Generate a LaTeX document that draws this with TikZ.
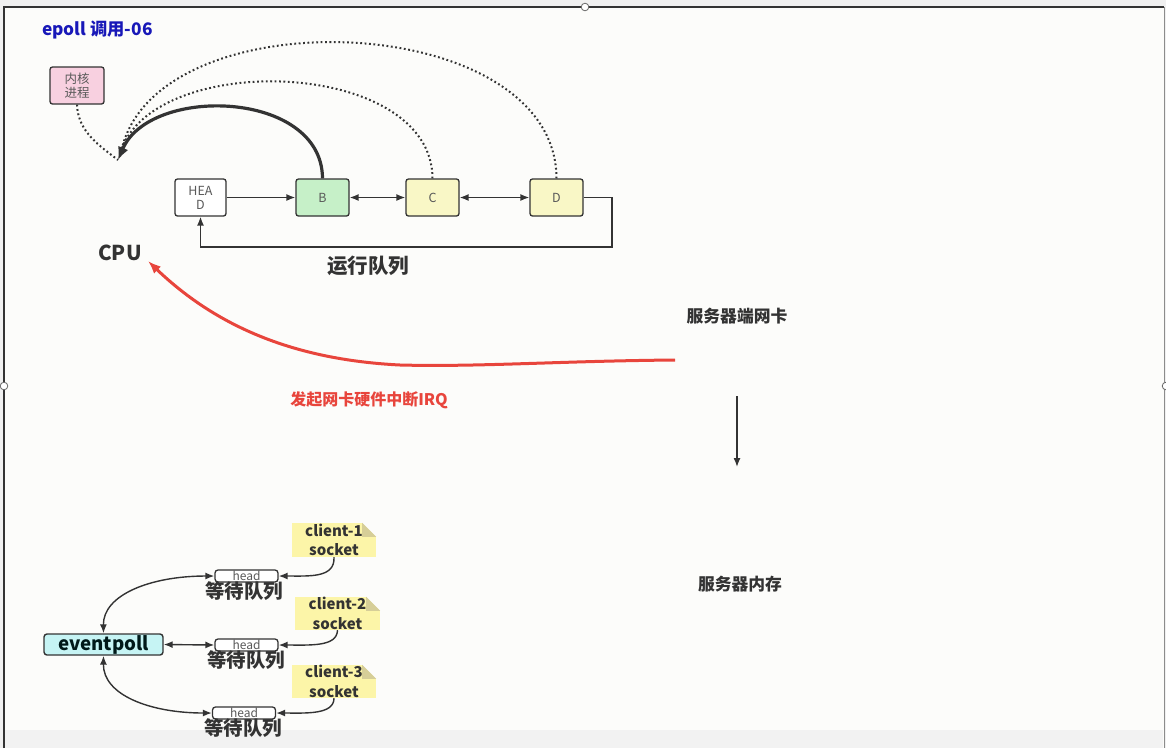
\documentclass[tikz,border=0pt]{standalone}
\usepackage{fontspec}
\setmainfont{Noto Sans CJK SC}
\usetikzlibrary{arrows.meta,calc}
\definecolor{inkc}{HTML}{333333}
\definecolor{pinkc}{HTML}{F8D0E0}
\definecolor{greenc}{HTML}{C6F0C8}
\definecolor{yelc}{HTML}{F9F7C6}
\definecolor{cyanc}{HTML}{C6F4F4}
\definecolor{notec}{HTML}{FCF5A8}
\definecolor{foldc}{HTML}{D6CE98}
\definecolor{redc}{HTML}{E8453C}
\definecolor{bluec}{HTML}{1818B8}
\definecolor{bgc}{HTML}{FCFCFA}
\begin{document}
\begin{tikzpicture}[x=1pt,y=-1pt,
  box/.style={draw=inkc, line width=1.3pt, rounded corners=2.5pt, inner sep=0pt, align=center,
    font=\fontsize{12.5}{14}\selectfont, text=black!65},
  headbox/.style={draw=inkc, line width=1.3pt, rounded corners=3pt, fill=white, inner sep=0pt,
    minimum width=63pt, minimum height=12pt, font=\fontsize{12}{12}\selectfont, text=black!65},
  note/.style={fill=notec, inner sep=0pt, align=center, font=\bfseries\fontsize{15}{19.5}\selectfont, text=inkc},
  wlbl/.style={font=\bfseries\fontsize{19.5}{20}\selectfont, text=inkc, inner sep=0pt},
  lbl/.style={font=\bfseries\fontsize{20.5}{22}\selectfont, text=inkc, inner sep=0pt},
  midlbl/.style={font=\bfseries\fontsize{16.8}{18}\selectfont, text=inkc, inner sep=0pt},
  arr/.style={draw=inkc, line width=1.4pt, -{Latex[length=9pt,width=7pt]}},
  darr/.style={draw=inkc, line width=1.4pt, {Latex[length=9pt,width=7pt]}-{Latex[length=9pt,width=7pt]}},
  dots/.style={draw=inkc, line width=2pt, dash pattern=on 1.8pt off 2.6pt}]
\useasboundingbox (0,0) rectangle (1166,748);
\fill[black!6] (0,0) rectangle (1166,748);
\fill[bgc] (4,7) rectangle (1164,748);
\fill[black!5] (5,730) rectangle (1163,748);
\draw[inkc, line width=2pt] (4,748) -- (4,7) -- (1164,7);
\draw[black!45, line width=1pt] (1164,7) -- (1164,748);
\foreach \p in {(585,7),(4,386),(1166,386)} \draw[black!60, fill=white, line width=0.8pt] \p circle (3.8);

% title
\node[font=\bfseries\fontsize{17.3}{19}\selectfont, text=bluec, anchor=west, inner sep=0pt] (title) at (42,30) {epoll 调用-06};

% run queue
\node[box, fill=pinkc, minimum width=54pt, minimum height=37pt] (kern) at (77,85.5) {内核\\进程};
\node[box, fill=white, minimum width=51pt, minimum height=37pt] (head) at (200.5,197.5) {HEA\\D};
\node[box, fill=greenc, minimum width=53pt, minimum height=37pt] (B) at (322.5,197.5) {B};
\node[box, fill=yelc, minimum width=53pt, minimum height=37pt] (C) at (432.5,197.5) {C};
\node[box, fill=yelc, minimum width=53pt, minimum height=37pt] (D) at (556.5,197.5) {D};
\coordinate (cpuin) at (118,160);

\draw[arr] (head) -- (B);
\draw[darr] (B) -- (C);
\draw[darr] (C) -- (D);
\draw[arr] (D.east) -| (612,247) -| (head.south);

\draw[dots] (C.north) .. controls (432,60) and (160,50) .. (122,148);
\draw[dots] (D.north) .. controls (556,10) and (160,-5) .. (122,148);
\draw[dots] (kern.south) .. controls (78,132) and (100,146) .. (cpuin);
\draw[draw=inkc, line width=3.2pt, -{Latex[length=13pt,width=11pt]}] (B.north) .. controls (322,90) and (150,85) .. (cpuin);

\node[lbl] (rq) at (368,266) {运行队列};
\node[lbl] (cpu) at (120,253) {CPU};

% network card
\node[midlbl] (nic) at (737,316) {服务器端网卡};
\node[midlbl] (mem) at (740,584) {服务器内存};
\coordinate (nicout) at (675,360);
\coordinate (cputip) at (148,261);
\draw[draw=redc, line width=3pt, -{Latex[length=13pt,width=10pt]}] (nicout) .. controls (560,361) and (480,367) .. (400,365) .. controls (300,360) and (220,330) .. (cputip);
\node[font=\bfseries\fontsize{16}{18}\selectfont, text=redc, inner sep=0pt] (irq) at (369,400) {发起网卡硬件中断IRQ};
\coordinate (a1) at (737,396);
\coordinate (a2) at (737,467);
\draw[arr] (a1) -- (a2);

% eventpoll
\node[draw=inkc, line width=1.4pt, rounded corners=3pt, fill=cyanc, minimum width=119pt, minimum height=21pt, inner sep=0pt,
  font=\bfseries\fontsize{18.7}{19}\selectfont, text=black!80!teal] (ev) at (103.5,644.5) {eventpoll};
\node[headbox] (h1) at (246.5,576) {head};
\node[headbox] (h2) at (246.5,645) {head};
\node[headbox] (h3) at (244,713) {head};
\node[wlbl] (w1) at (244,591) {等待队列};
\node[wlbl] (w2) at (246,660) {等待队列};
\node[wlbl] (w3) at (243,728) {等待队列};

\node[note, minimum width=84pt, minimum height=34pt] (n1) at (334,540) {client-1\\socket};
\node[note, minimum width=85pt, minimum height=33pt] (n2) at (337.5,613.5) {client-2\\socket};
\node[note, minimum width=84pt, minimum height=33pt] (n3) at (334,681.5) {client-3\\socket};
\foreach \n in {n1,n2,n3}{
  \fill[bgc] ($(\n.north east)+(-14,0)$) -- (\n.north east) -- ($(\n.north east)+(0,14)$) -- cycle;
  \fill[foldc] ($(\n.north east)+(-14,0)$) -- ($(\n.north east)+(0,14)$) -- ($(\n.north east)+(-14,14)$) -- cycle;
}

\draw[darr] (ev.north) .. controls (103,595) and (150,576) .. (h1.west);
\draw[darr] (ev.east) -- (h2.west);
\draw[darr] (ev.south) .. controls (103,695) and (150,713) .. (h3.west);
\draw[arr] (n1.south) .. controls (335,578) and (310,576) .. (h1.east);
\draw[arr] (n2.south) .. controls (337,647) and (310,645) .. (h2.east);
\draw[arr] (n3.south) .. controls (334,715) and (305,713) .. (h3.east);
\end{tikzpicture}
\end{document}
